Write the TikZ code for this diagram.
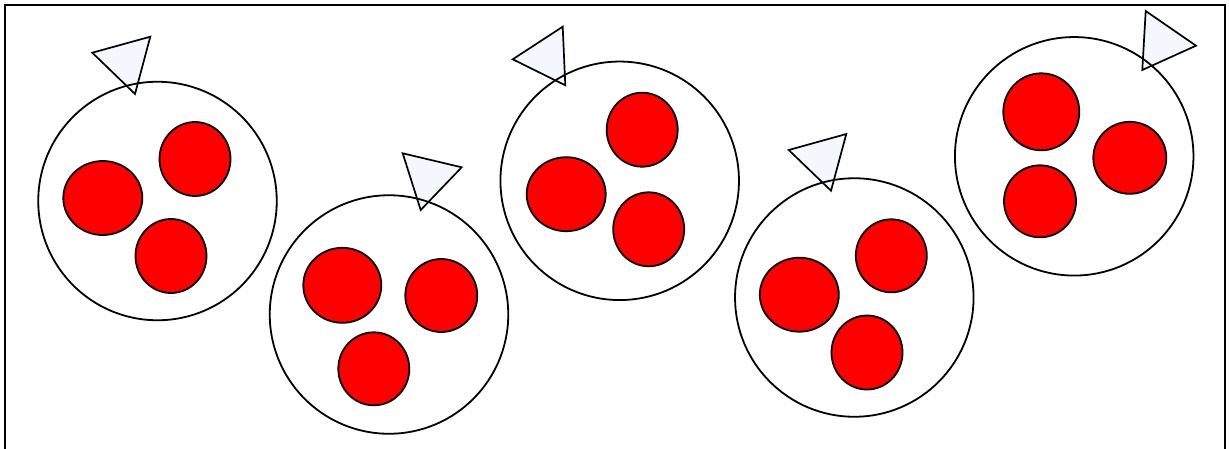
\documentclass[tikz,border=0pt]{standalone}
\usetikzlibrary{shapes.geometric}
\definecolor{tri}{RGB}{244,248,254}
\definecolor{ball}{RGB}{255,0,0}
\begin{document}
\begin{tikzpicture}[x=1pt,y=-1pt,
  cellbox/.style={circle,draw=black,line width=1.8pt,inner sep=0pt,outer sep=0pt,minimum size=238.5pt},
  ball/.style={ellipse,draw=black,fill=ball,line width=1.8pt,inner sep=0pt,outer sep=0pt},
  flag/.style={draw=black,fill=tri,line width=1.7pt,line join=miter}]
\useasboundingbox (0,0) rectangle (1229,448);
\draw[line width=2pt] (4.5,449) -- (4.5,5) -- (1225.3,5) -- (1225.3,449);
% triangles
\draw[flag] (92.3,52.7) -- (150.3,36.7) -- (135,94) -- cycle;
\draw[flag] (402.7,153.3) -- (461.7,167.3) -- (420.7,210) -- cycle;
\draw[flag] (512.7,59.3) -- (562.7,26.7) -- (565.3,85.3) -- cycle;
\draw[flag] (788.7,150) -- (846.3,134) -- (831,190.7) -- cycle;
\draw[flag] (1145.7,11) -- (1196,45.7) -- (1142.3,70) -- cycle;
% cells
\node[cellbox] (c1) at (157.5,201) {};
\node[cellbox] (c2) at (389,314.5) {};
\node[cellbox] (c3) at (619.7,180.8) {};
\node[cellbox] (c4) at (854.3,297.5) {};
\node[cellbox] (c5) at (1074.2,156.3) {};
% balls
\node[ball,minimum width=79pt,minimum height=74pt] (b1a) at (102.8,198) {};
\node[ball,minimum width=71pt,minimum height=74pt] (b1b) at (195,159) {};
\node[ball,minimum width=71pt,minimum height=74pt] (b1c) at (171,256) {};
\node[ball,minimum width=78pt,minimum height=75pt] (b2a) at (342.3,285.3) {};
\node[ball,minimum width=72pt,minimum height=73pt] (b2b) at (441.3,295.5) {};
\node[ball,minimum width=71pt,minimum height=73pt] (b2c) at (373.8,368.8) {};
\node[ball,minimum width=79pt,minimum height=74pt] (b3a) at (566.2,194.2) {};
\node[ball,minimum width=71pt,minimum height=74pt] (b3b) at (642.2,129.7) {};
\node[ball,minimum width=71pt,minimum height=74pt] (b3c) at (648.7,229.3) {};
\node[ball,minimum width=79pt,minimum height=74pt] (b4a) at (799.3,294.7) {};
\node[ball,minimum width=71pt,minimum height=73pt] (b4b) at (891.3,255.8) {};
\node[ball,minimum width=71pt,minimum height=74pt] (b4c) at (867,352.5) {};
\node[ball,minimum width=76pt,minimum height=77pt] (b5a) at (1041.3,111.8) {};
\node[ball,minimum width=73pt,minimum height=72pt] (b5b) at (1129.8,157.8) {};
\node[ball,minimum width=72pt,minimum height=72pt] (b5c) at (1040,201.3) {};
\end{tikzpicture}
\end{document}
